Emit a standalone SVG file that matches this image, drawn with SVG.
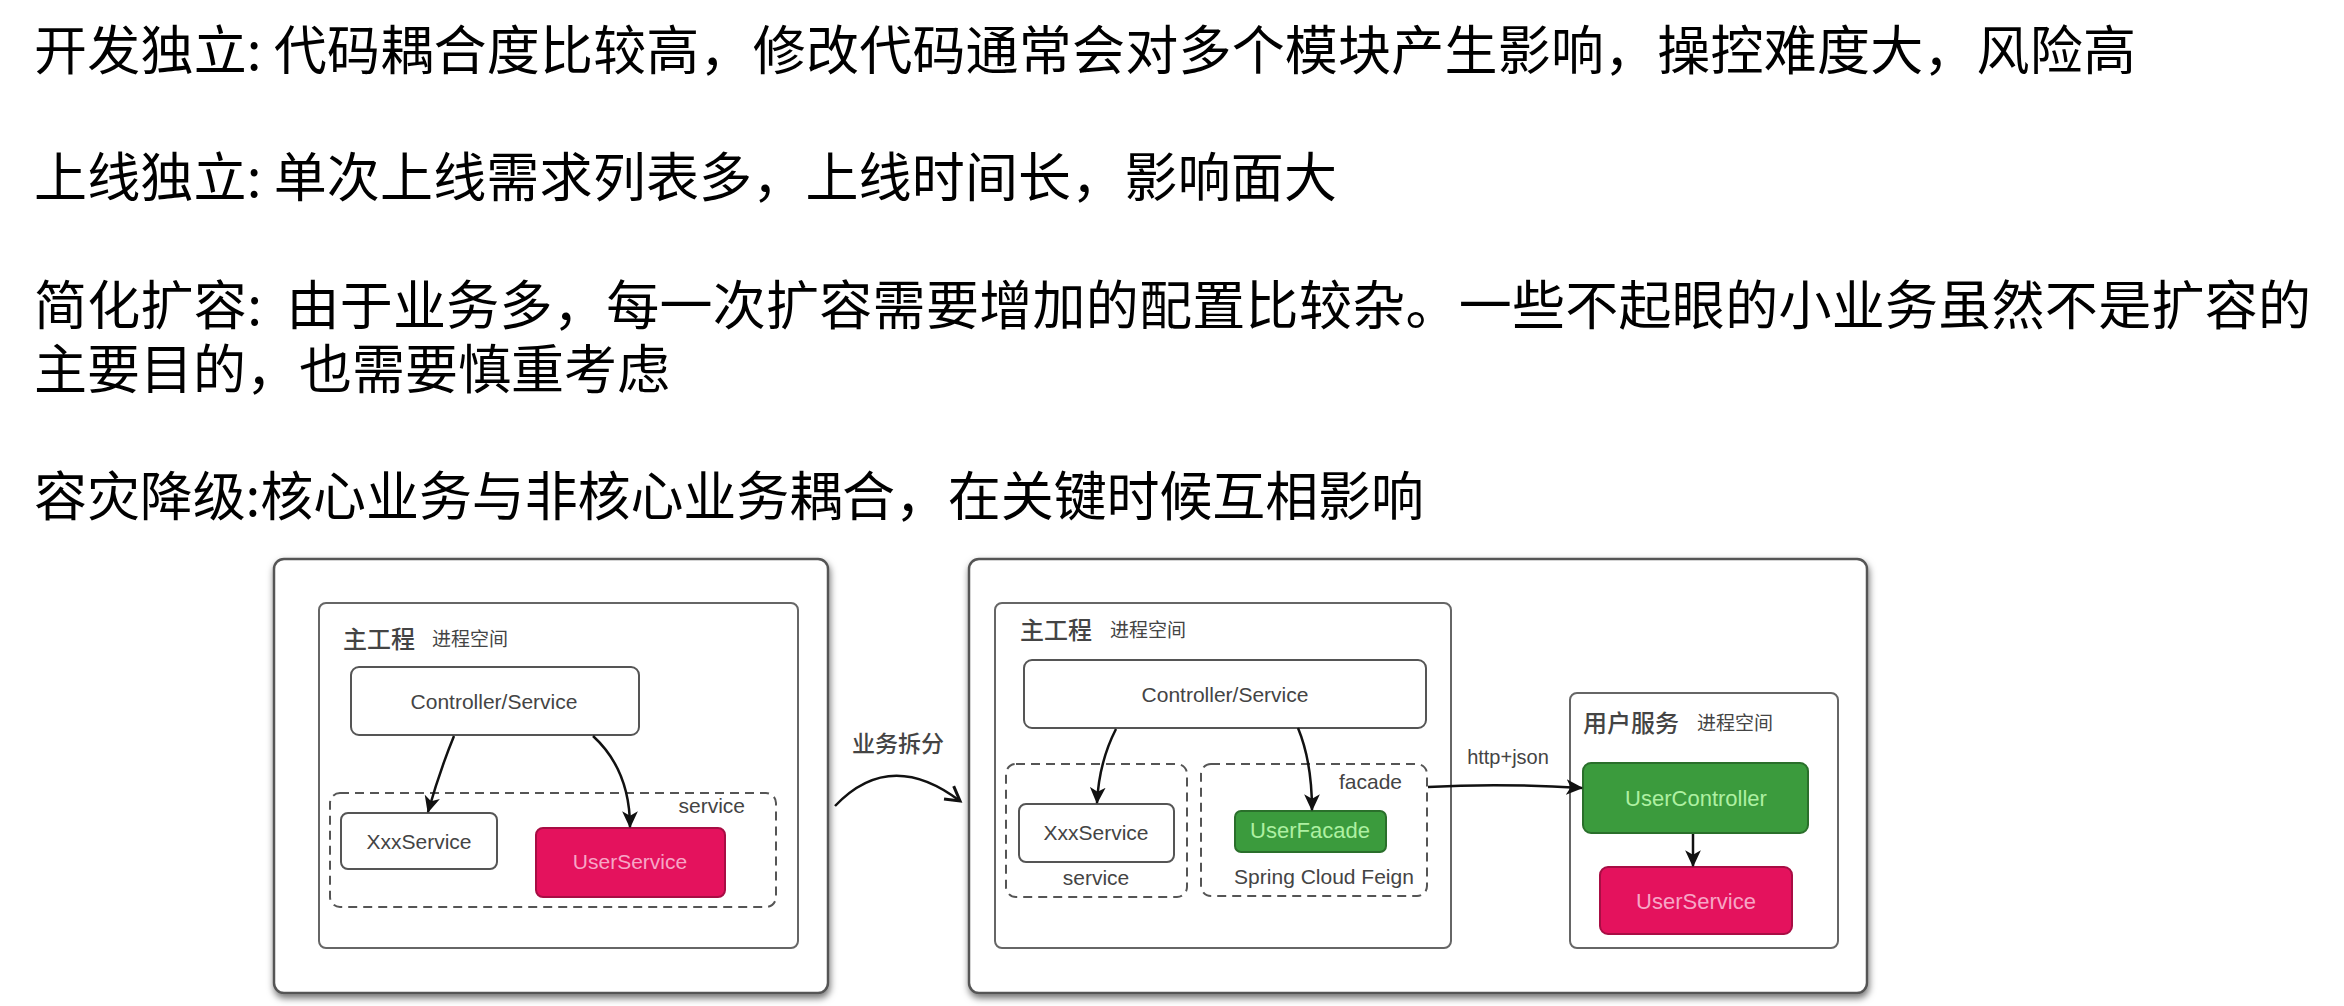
<svg xmlns="http://www.w3.org/2000/svg" width="2344" height="1006" viewBox="0 0 2344 1006">
<style>
.hd{font-family:"Noto Sans CJK SC","Noto Sans",sans-serif;font-size:53px;fill:#000}
.outer{fill:#fff;stroke:#555;stroke-width:2.5}
.inner{fill:#fff;stroke:#666;stroke-width:2}
.box{fill:#fff;stroke:#555;stroke-width:2}
.dash{fill:none;stroke:#555;stroke-width:2;stroke-dasharray:9 6}
.red{fill:#e4125d;stroke:#a80d44;stroke-width:2}
.green{fill:#3b9b3d;stroke:#2a6f2b;stroke-width:2}
.t{font-family:"Liberation Sans",Arial,sans-serif;font-size:21px;fill:#444;text-anchor:middle}
.tr{font-family:"Liberation Sans",Arial,sans-serif;font-size:22px;text-anchor:middle}
.cn{font-family:"Noto Sans CJK SC","Noto Sans",sans-serif;font-size:24px;fill:#444;font-weight:500}
.cns{font-family:"Noto Sans CJK SC","Noto Sans",sans-serif;font-size:19px;fill:#444}
.conn{fill:none;stroke:#111;stroke-width:2.5}
</style>
<defs>
<filter id="sh" x="-5%" y="-5%" width="110%" height="115%">
<feDropShadow dx="1" dy="4" stdDeviation="3.5" flood-color="#000" flood-opacity="0.55"/>
</filter>
<marker id="ah" markerWidth="18" markerHeight="18" viewBox="0 0 16 16" refX="14" refY="8" orient="auto" markerUnits="userSpaceOnUse">
<path d="M0,1 L15,8 L0,15 L4,8 z" fill="#111"/>
</marker>
<marker id="av" markerWidth="20" markerHeight="20" viewBox="0 0 20 20" refX="17" refY="10" orient="auto" markerUnits="userSpaceOnUse">
<path d="M3,2 L17,10 L3,18" fill="none" stroke="#111" stroke-width="3"/>
</marker>
</defs>
<rect width="2344" height="1006" fill="#fff"/>

<g id="text-lines">
<text class="hd" x="34" y="70" textLength="2102" lengthAdjust="spacing">开发独立: 代码耦合度比较高，修改代码通常会对多个模块产生影响，操控难度大，风险高</text>
<text class="hd" x="34" y="197" textLength="1303" lengthAdjust="spacing">上线独立: 单次上线需求列表多，上线时间长，影响面大</text>
<text class="hd"><tspan x="34" y="325" textLength="2277" lengthAdjust="spacing">简化扩容:&#160;&#160;由于业务多，每一次扩容需要增加的配置比较杂。一些不起眼的小业务虽然不是扩容的</tspan><tspan x="34" y="389">主要目的，也需要慎重考虑</tspan></text>
<text class="hd" x="34" y="516" textLength="1390" lengthAdjust="spacing">容灾降级:核心业务与非核心业务耦合，在关键时候互相影响</text>
</g>

<g id="before">
<rect class="outer" x="274" y="559" width="554" height="434" rx="10" filter="url(#sh)"/>
<g id="main1">
<rect class="inner" x="319" y="603" width="479" height="345" rx="7"/>
<text class="cn" x="343" y="648">主工程</text>
<text class="cns" x="432" y="646">进程空间</text>
</g>
<g id="ctrl1">
<rect class="box" x="351" y="667" width="288" height="68" rx="8"/>
<text class="t" x="494" y="709">Controller/Service</text>
</g>
<g id="svcgroup1">
<rect class="dash" x="330" y="793" width="446" height="114" rx="10"/>
<text class="t" x="745" y="813" style="text-anchor:end">service</text>
</g>
<g id="xxx1">
<rect class="box" x="341" y="813" width="156" height="56" rx="7"/>
<text class="t" x="419" y="849">XxxService</text>
</g>
<g id="usersvc1">
<rect class="red" x="536" y="828" width="189" height="69" rx="7"/>
<text class="t" x="630" y="869" style="fill:#f7a6c6">UserService</text>
</g>
</g>

<g id="split">
<text class="cn" x="852" y="752" style="font-size:23px">业务拆分</text>
</g>

<g id="after">
<rect class="outer" x="969" y="559" width="898" height="434" rx="10" filter="url(#sh)"/>
<g id="main2">
<rect class="inner" x="995" y="603" width="456" height="345" rx="7"/>
<text class="cn" x="1020" y="639">主工程</text>
<text class="cns" x="1110" y="637">进程空间</text>
</g>
<g id="ctrl2">
<rect class="box" x="1024" y="660" width="402" height="68" rx="8"/>
<text class="t" x="1225" y="702">Controller/Service</text>
</g>
<g id="svcgroup2">
<rect class="dash" x="1006" y="764" width="181" height="133" rx="10"/>
<text class="t" x="1096" y="885">service</text>
</g>
<g id="xxx2">
<rect class="box" x="1019" y="804" width="155" height="58" rx="7"/>
<text class="t" x="1096" y="840">XxxService</text>
</g>
<g id="facadegroup">
<rect class="dash" x="1201" y="764" width="226" height="132" rx="10"/>
<text class="t" x="1402" y="789" style="text-anchor:end">facade</text>
<text class="t" x="1324" y="884">Spring Cloud Feign</text>
</g>
<g id="userfacade">
<rect class="green" x="1235" y="811" width="151" height="41" rx="6"/>
<text class="tr" x="1310" y="838" style="fill:#aef0a2">UserFacade</text>
</g>
<g id="usersvcspace">
<rect class="inner" x="1570" y="693" width="268" height="255" rx="7"/>
<text class="cn" x="1583" y="732">用户服务</text>
<text class="cns" x="1697" y="730">进程空间</text>
</g>
<g id="userctrl">
<rect class="green" x="1583" y="763" width="225" height="70" rx="8"/>
<text class="tr" x="1696" y="806" style="fill:#aef0a2">UserController</text>
</g>
<g id="usersvc2">
<rect class="red" x="1600" y="867" width="192" height="67" rx="8"/>
<text class="tr" x="1696" y="909" style="fill:#f7a6c6">UserService</text>
</g>
</g>

<g id="connectors">
<path class="conn" d="M454,736 Q440,770 428,812" marker-end="url(#ah)"/>
<path class="conn" d="M593,736 Q630,770 630,827" marker-end="url(#ah)"/>
<path class="conn" d="M835,806 Q890,748 960,801" marker-end="url(#av)"/>
<path class="conn" d="M1116,729 Q1099,762 1097,803" marker-end="url(#ah)"/>
<path class="conn" d="M1298,728 Q1312,762 1312,810" marker-end="url(#ah)"/>
<path class="conn" d="M1428,787 Q1500,783 1582,788" marker-end="url(#ah)"/>
<path class="conn" d="M1693,834 L1693,866" marker-end="url(#ah)"/>
<text class="t" x="1508" y="764" style="font-size:20px">http+json</text>
</g>
</svg>
